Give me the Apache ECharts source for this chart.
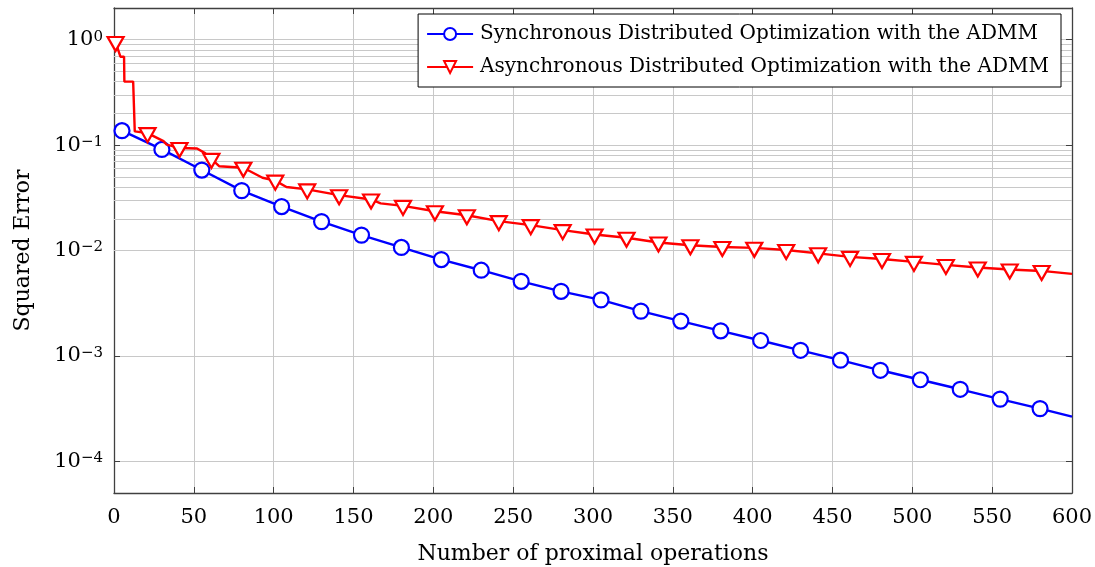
<!DOCTYPE html>
<html><head><meta charset="utf-8">
<script src="https://cdn.jsdelivr.net/npm/echarts@6/dist/echarts.min.js"></script>
<style>html,body{margin:0;padding:0;background:#fff}#c{width:1095px;height:567px}</style>
</head><body><div id="c"></div>
<script>
const FONT = 'DejaVu Serif';
const syncName = 'Synchronous Distributed Optimization with the ADMM';
const asyncName = 'Asynchronous Distributed Optimization with the ADMM';

const syncX = [5,30,55,80,105,130,155,180,205,230,255,280,305,330,355,380,405,430,455,480,505,530,555,580];
const syncY = [0.137,0.091,0.058,0.037,0.0261,0.0188,0.0140,0.0107,0.0082,0.0065,0.0051,0.0041,0.0034,0.00266,0.00214,0.00173,0.00140,0.00113,0.00091,0.00073,0.000594,0.000482,0.000389,0.000316];
const syncEndX = [600];
const syncEndY = [0.000265];

const asyncMarkX = [1,21,41,61,81,101,121,141,161,181,201,221,241,261,281,301,321,341,361,381,401,421,441,461,481,501,521,541,561,581];
const asyncMarkY = [0.95,0.130,0.094,0.074,0.061,0.046,0.038,0.0335,0.0305,0.0265,0.0236,0.0216,0.0190,0.0174,0.0156,0.0142,0.0132,0.0119,0.0112,0.0108,0.0106,0.0101,0.0094,0.0087,0.0083,0.0078,0.0073,0.0069,0.0066,0.0064];
const asyncPathX = [4,6.3,6.5,12,13,31,33,52,57,66,93,108,167,600];
const asyncPathY = [0.69,0.69,0.40,0.40,0.135,0.109,0.101,0.093,0.084,0.063,0.049,0.040,0.028,0.0060];

const xTickStep = 50;
const yMin = 5e-5, yMax = 2;
const yMinorTicks = [6e-5,7e-5,8e-5,9e-5,
  2e-4,3e-4,4e-4,5e-4,6e-4,7e-4,8e-4,9e-4,
  2e-3,3e-3,4e-3,5e-3,6e-3,7e-3,8e-3,9e-3,
  2e-2,3e-2,4e-2,5e-2,6e-2,7e-2,8e-2,9e-2,
  2e-1,3e-1,4e-1,5e-1,6e-1,7e-1,8e-1,9e-1];

const syncData = syncX.map((x,i)=>[x,syncY[i]]).concat(
  syncEndX.map((x,i)=>({value:[x,syncEndY[i]], symbol:'none'})));
const asyncAll = asyncMarkX.map((x,i)=>({value:[x,asyncMarkY[i]]}))
  .concat(asyncPathX.map((x,i)=>({value:[x,asyncPathY[i]], symbol:'none'})))
  .sort((a,b)=>a.value[0]-b.value[0]);

const AX = '#404040', GRID = '#c8c8c8';
function fmtLog(v){
  const l = Math.log10(v), e = Math.round(l);
  if (Math.abs(l-e) > 1e-6) return '';
  return '{b|10}{s|' + (e<0 ? '\u2212'+(-e) : e) + '}';
}
const chart = echarts.init(document.getElementById('c'));
chart.setOption({
  animation:false,
  backgroundColor:'#fff',
  grid:{left:114,right:23,top:8,bottom:74,containLabel:false,outerBoundsMode:'none'},
  legend:{
    data:[syncName, asyncName], orient:'vertical', right:34, top:14, z:50, zlevel:1,
    itemWidth:46, itemHeight:15, itemGap:13,
    backgroundColor:'#fff', borderColor:'#000', borderWidth:1, borderRadius:0,
    padding:[10,12,10,8],
    textStyle:{fontFamily:FONT, fontSize:20, color:'#000', padding:[0,0,0,2]}
  },
  xAxis:[{
    type:'value', min:0, max:600, interval:xTickStep, position:'bottom',
    axisLine:{show:true, onZero:false, lineStyle:{color:AX, width:1.3}},
    axisTick:{show:true, inside:true, length:6, lineStyle:{color:AX}},
    axisLabel:{margin:14, fontFamily:FONT, fontSize:21, color:'#000'},
    splitLine:{show:true, lineStyle:{color:GRID, width:1}},
    name:'Number of proximal operations', nameLocation:'middle', nameGap:50,
    nameTextStyle:{fontFamily:FONT, fontSize:22, color:'#000'}
  },{
    type:'value', min:0, max:600, interval:xTickStep, position:'top',
    axisLine:{show:true, onZero:false, lineStyle:{color:AX, width:1.3}},
    axisTick:{show:true, inside:true, length:6, lineStyle:{color:AX}},
    axisLabel:{show:false}, splitLine:{show:false}
  }],
  yAxis:[{
    type:'log', logBase:10, min:yMin, max:yMax, position:'left',
    axisLine:{show:true, onZero:false, lineStyle:{color:AX, width:1.3}},
    axisTick:{show:true, inside:true, length:6, lineStyle:{color:AX}},
    axisLabel:{margin:11, showMinLabel:false, showMaxLabel:false, formatter:fmtLog,
      rich:{b:{fontFamily:FONT, fontSize:21, color:'#000'},
            s:{fontFamily:FONT, fontSize:15, color:'#000', verticalAlign:'top'}}},
    splitLine:{show:true, lineStyle:{color:GRID, width:1}},
    name:'Squared Error', nameLocation:'middle', nameGap:80, nameRotate:90,
    nameTextStyle:{fontFamily:FONT, fontSize:22, color:'#000'}
  },{
    type:'log', logBase:10, min:yMin, max:yMax, position:'right',
    axisLine:{show:true, onZero:false, lineStyle:{color:AX, width:1.3}},
    axisTick:{show:true, inside:true, length:6, lineStyle:{color:AX}},
    axisLabel:{show:false}, splitLine:{show:false}
  }],
  series:[{
    type:'line', name:'minorGrid', data:[[0,1]], symbol:'none', z:1,
    lineStyle:{opacity:0}, silent:true, legendHoverLink:false,
    markLine:{silent:true, symbol:['none','none'], label:{show:false}, z:1,
      lineStyle:{color:GRID, width:1, type:'solid'},
      data:yMinorTicks.map(v=>({yAxis:v}))}
  },{
    type:'line', name:syncName, data:syncData, z:3,
    symbol:'circle', symbolSize:15, showAllSymbol:true,
    lineStyle:{color:'#0000ff', width:2.4},
    itemStyle:{color:'#fff', borderColor:'#0000ff', borderWidth:2.2}
  },{
    type:'line', name:asyncName, data:asyncAll, z:4,
    symbol:'triangle', symbolRotate:180, symbolSize:[16,14], symbolOffset:[0,2], showAllSymbol:true,
    lineStyle:{color:'#ff0000', width:2.4},
    itemStyle:{color:'#fff', borderColor:'#ff0000', borderWidth:2.2}
  }]
});
</script></body></html>
